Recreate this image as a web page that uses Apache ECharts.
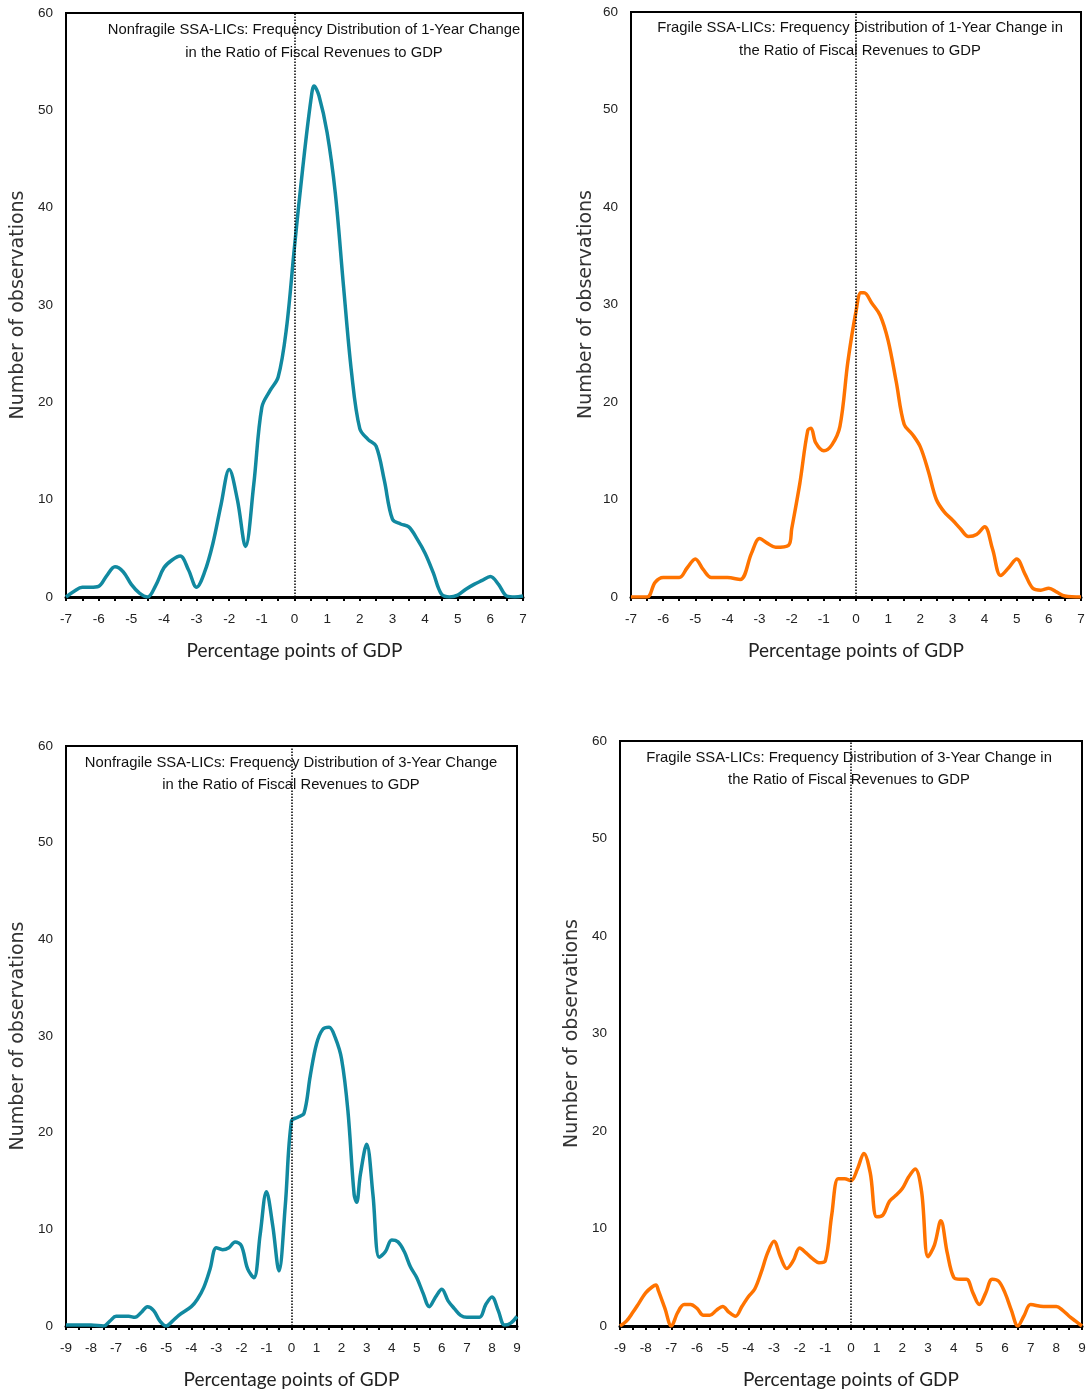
<!DOCTYPE html>
<html>
<head>
<meta charset="utf-8">
<script src="https://cdn.jsdelivr.net/npm/echarts@6/dist/echarts.min.js"></script>
<style>
html,body{margin:0;padding:0;background:#fff;}
#c{width:1092px;height:1395px;}
</style>
</head>
<body>
<div id="c"></div>
<script>
// ---- Data ----
// Panel 1: Nonfragile, 1-year change
const x1 = [-7,-6.75,-6.5,-6.25,-6,-5.75,-5.5,-5.25,-5,-4.75,-4.5,-4.25,-4,-3.75,-3.5,-3.25,-3,-2.75,-2.5,-2.25,-2,-1.75,-1.5,-1.25,-1,-0.75,-0.5,-0.25,0,0.25,0.5,0.6,0.75,1,1.25,1.5,1.75,2,2.25,2.5,2.75,3,3.25,3.5,3.75,4,4.25,4.5,4.75,5,5.25,5.5,5.75,6,6.25,6.5,6.75,7];
const y1 = [0,0.6,1.0,1.0,1.1,2.2,3.1,2.6,1.3,0.4,0,1.2,3.0,3.8,4.2,2.8,1.0,2.6,5.5,9.5,13.1,10,5.2,11.5,19.5,21.2,22.6,27.5,36,44,51,52.5,51.5,47.7,41.5,32,23,17.3,16.2,15.5,12,8.0,7.5,7.2,6.0,4.5,2.5,0.3,0,0.2,0.8,1.3,1.7,2.1,1.3,0.1,0,0.1];
// Panel 2: Fragile, 1-year change
const x2 = [-7,-6.5,-6.25,-6,-5.5,-5.25,-5,-4.75,-4.5,-4,-3.6,-3.25,-3,-2.75,-2.5,-2.1,-2,-1.75,-1.5,-1.4,-1.25,-1,-0.75,-0.5,-0.25,0,0.15,0.25,0.5,0.75,1,1.25,1.5,1.75,2,2.25,2.5,2.75,3,3.25,3.5,3.75,4,4.25,4.5,4.75,5,5.25,5.5,5.75,6,6.25,6.5,7];
const y2 = [0,0,1.5,2,2,3,3.9,2.8,2,2,1.8,4.5,6.0,5.5,5.1,5.3,7,11.6,17.1,17.3,15.8,15,15.6,17.5,24.2,29.3,31.2,31.2,30.1,28.9,26.3,22.1,17.7,16.7,15.4,12.9,10,8.7,7.9,7,6.2,6.4,7.2,4.9,2.2,3.0,3.9,2.4,0.9,0.7,0.9,0.5,0.1,0];
// Panel 3: Nonfragile, 3-year change
const x3 = [-9,-8.5,-8,-7.5,-7.25,-7,-6.5,-6.25,-6,-5.75,-5.5,-5.25,-5,-4.75,-4.5,-4,-3.75,-3.5,-3.25,-3,-2.75,-2.5,-2.25,-2,-1.75,-1.5,-1.25,-1,-0.75,-0.5,-0.25,0,0.25,0.5,0.75,1,1.25,1.5,1.75,2,2.25,2.5,2.6,2.75,3,3.25,3.5,3.75,4,4.25,4.5,4.75,5,5.25,5.5,5.75,6,6.25,6.5,6.75,7,7.5,7.75,8,8.25,8.5,8.75,9];
const y3 = [0.1,0.1,0.1,0,0.5,1.0,1.0,0.9,1.4,2.0,1.6,0.5,0,0.5,1.1,2.0,2.8,4.0,5.9,8.1,7.9,8.1,8.7,8.3,5.9,5.0,9.5,13.9,10.4,5.7,12.4,21.2,21.6,22.0,25.9,29.2,30.7,30.9,29.8,27.6,22.3,13.6,12.8,15.7,18.8,13.6,7.1,7.7,8.9,8.7,7.7,6.1,5.0,3.4,2.0,3.0,3.8,2.6,1.8,1.1,0.9,0.9,2.2,3.0,1.6,0.1,0.3,1.0];
// Panel 4: Fragile, 3-year change
const x4 = [-9,-8.75,-8.5,-8.25,-8,-7.75,-7.6,-7.5,-7.25,-7,-6.75,-6.5,-6.25,-6,-5.75,-5.5,-5.25,-5,-4.75,-4.5,-4.25,-4,-3.75,-3.5,-3.25,-3,-2.75,-2.5,-2.25,-2,-1.75,-1.5,-1.25,-1,-0.75,-0.5,-0.25,0,0.25,0.5,0.75,1,1.25,1.5,1.75,2,2.25,2.5,2.75,3,3.25,3.5,3.75,4,4.25,4.5,4.75,5,5.25,5.5,5.75,6,6.25,6.5,6.75,7,7.5,8,8.25,8.5,8.75,9];
const y4 = [0,0.5,1.4,2.4,3.4,4.0,4.2,3.6,1.8,0,1.4,2.2,2.2,1.8,1.1,1.1,1.6,2.0,1.4,1.0,2.0,3.0,3.8,5.5,7.5,8.7,7.1,5.9,6.7,8.0,7.5,6.9,6.5,6.7,11.4,15.1,15.1,14.9,16.1,17.7,15.7,11.2,11.4,12.8,13.4,14.1,15.3,16.1,13.8,7.1,8.3,10.8,7.5,5.0,4.8,4.8,3.4,2.2,3.4,4.8,4.6,3.4,1.6,0,1.1,2.2,2.0,2.0,1.6,1.0,0.5,0];

const titles = [
  ["Nonfragile SSA-LICs: Frequency Distribution of 1-Year Change", "in the Ratio of Fiscal Revenues to GDP"],
  ["Fragile SSA-LICs: Frequency Distribution of 1-Year Change in", "the Ratio of Fiscal Revenues to GDP"],
  ["Nonfragile SSA-LICs: Frequency Distribution of 3-Year Change", "in the Ratio of Fiscal Revenues to GDP"],
  ["Fragile SSA-LICs: Frequency Distribution of 3-Year Change in", "the Ratio of Fiscal Revenues to GDP"]
];
const xRanges = [[-7,7],[-7,7],[-9,9],[-9,9]];
const yTicks = [0,10,20,30,40,50,60];
const xName = "Percentage points of GDP";
const yName = "Number of observations";
const TEAL = "#1189a0", ORANGE = "#ff7300";

// ---- Layout ----
const grids = [
  {left:66, top:13, width:457, height:584},
  {left:631, top:12, width:450, height:585},
  {left:66, top:746, width:451, height:580},
  {left:620, top:741, width:462, height:585}
];
const yNameGap = [38, 35, 38, 38];
const titleCX = [314, 860, 291, 849];
const titleY = [[30,53],[28,51],[763,785],[758,780]];

const xs = [x1,x2,x3,x4], ys = [y1,y2,y3,y4];
const colors = [TEAL, ORANGE, TEAL, ORANGE];

const option = {
  animation:false,
  backgroundColor:'#fff',
  grid: grids.map(g => Object.assign({show:true, borderColor:'#000', borderWidth:2, backgroundColor:'transparent'}, g)),
  xAxis: grids.map((g,i) => ({
    type:'value', gridIndex:i, min:xRanges[i][0], max:xRanges[i][1], interval:1,
    axisLine:{show:true, onZero:false, lineStyle:{color:'#000', width:3}},
    axisTick:{show:true, inside:false, length:4, lineStyle:{color:'#000', width:2}},
    minorTick:{show:true, splitNumber:2, length:4, lineStyle:{color:'#000', width:2}},
    splitLine:{show:false},
    axisLabel:{color:'#222', fontFamily:'Liberation Sans, sans-serif', fontSize:13.5, margin:15},
    name:xName, nameLocation:'middle', nameGap:44,
    nameTextStyle:{fontFamily:'Lato, sans-serif', fontSize:19, color:'#222'}
  })),
  yAxis: grids.map((g,i) => ({
    type:'value', gridIndex:i, min:0, max:60, interval:10,
    axisLine:{show:false}, axisTick:{show:false}, splitLine:{show:false},
    axisLabel:{color:'#222', fontFamily:'Liberation Sans, sans-serif', fontSize:13.5, margin:13,
      formatter: v => yTicks.includes(v) ? String(v) : ''},
    name:yName, nameLocation:'middle', nameGap:yNameGap[i], nameRotate:90,
    nameTextStyle:{fontFamily:'DejaVu Sans, sans-serif', fontSize:19, color:'#333'}
  })),
  series: xs.map((xx,i) => ({
    type:'line', xAxisIndex:i, yAxisIndex:i,
    data: xx.map((v,k) => [v, ys[i][k]]),
    smooth:0.35, showSymbol:false, symbol:'none',
    lineStyle:{color:colors[i], width:3.5},
    markLine:{
      silent:true, symbol:['none','none'], label:{show:false},
      lineStyle:{color:'#000', type:'dotted', width:1.5},
      data:[{xAxis:0}]
    },
    z:3
  })),
  graphic: titles.flatMap((t,i) => {
    return t.map((line,j) => ({
      type:'text', x:titleCX[i], y:titleY[i][j], z:10,
      style:{text:line, textAlign:'center', textVerticalAlign:'middle',
        font:'14.8px "Liberation Sans", sans-serif', fill:'#111'}
    }));
  })
};

const chart = echarts.init(document.getElementById('c'), null, {renderer:'canvas'});
chart.setOption(option);
</script>
</body>
</html>
